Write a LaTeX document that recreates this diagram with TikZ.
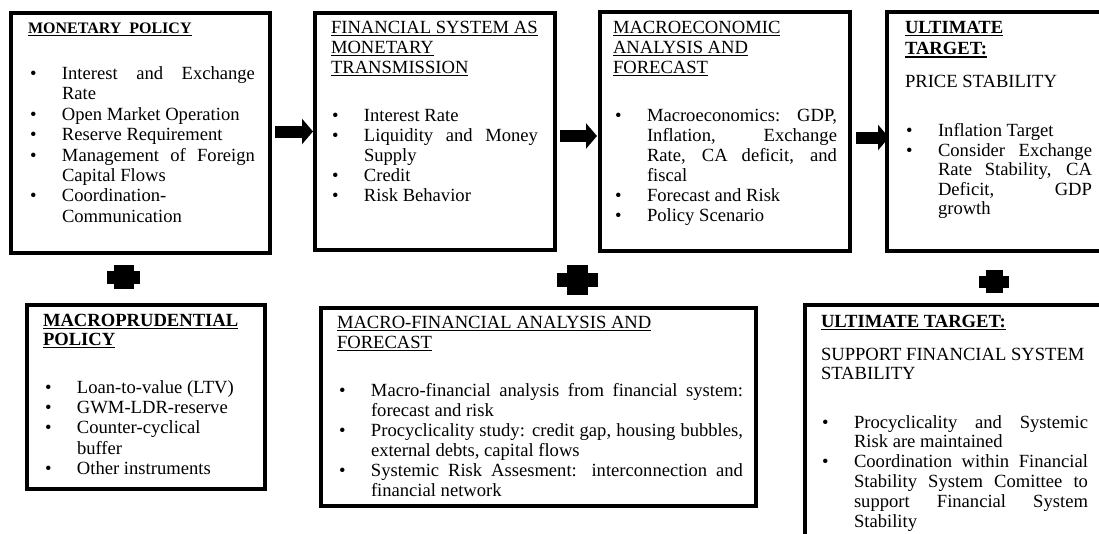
\documentclass[tikz,border=0pt]{standalone}
\usepackage{fontspec}
\setmainfont{Liberation Serif}
\usetikzlibrary{arrows.meta}
\newcommand\ulx[1]{\setbox0=\hbox{#1}\rlap{\rule[-3pt]{\wd0}{1.4pt}}\box0}
\newcommand\itm{\par\noindent\llap{\hbox to 32pt{\textbullet\hfil}}}
\newcommand\blist[3]{\vtop{\hsize=#1pt\baselineskip=#2pt\parindent=0pt\parskip=0pt\hyphenpenalty=10000\exhyphenpenalty=10000\hbadness=10000\tolerance=10000 #3\par}}
\newcommand\tlines[2]{\vtop{\baselineskip=#1pt #2}}
\begin{document}
\begin{tikzpicture}[x=1pt,y=-1pt,
  box/.style={draw, line width=3.5pt, inner sep=0pt, outer sep=0pt},
  txt/.style={anchor=base west, inner sep=0pt, outer sep=0pt, font=\fontsize{18.6}{20.2}\selectfont},
  barrow/.style={line width=12pt, -{Triangle[length=11pt 0 0, width=25pt 0 0]}}]
\clip (0,0) rectangle (1099,533);
\fill[white] (0,0) rectangle (1099,533);

% boxes
\node[box, minimum width=259pt, minimum height=240pt] (b1) at (140.5,133) {};
\node[box, minimum width=240pt, minimum height=237pt] (b2) at (435,131.5) {};
\node[box, minimum width=250pt, minimum height=239pt] (b3) at (725,131.5) {};
\node[box, minimum width=225pt, minimum height=239pt] (b4) at (999.5,131.5) {};
\node[box, minimum width=238pt, minimum height=184pt] (b5) at (146,397) {};
\node[box, minimum width=435pt, minimum height=198pt] (b6) at (538.5,407) {};
\node[box, minimum width=307pt, minimum height=245pt] (b7) at (958.5,427.5) {};

% arrows
\coordinate (a1s) at ([xshift=5pt,yshift=1.5pt]b1.east);
\coordinate (a1e) at (b2.west |- a1s);
\draw[barrow] (a1s) -- ([xshift=-2pt]a1e);
\coordinate (a2s) at ([xshift=5pt,yshift=-4.5pt]b2.east);
\coordinate (a2e) at (b3.west |- a2s);
\draw[barrow] (a2s) -- ([xshift=-3pt]a2e);
\coordinate (a3s) at ([xshift=6pt,yshift=-6pt]b3.east);
\coordinate (a3e) at (b4.west |- a3s);
\draw[barrow] (a3s) -- ([xshift=2pt]a3e);

% plus signs
\coordinate (p1) at (123.5,277);
\fill (p1) ++(-16.5,-6.5) rectangle ++(33,13);
\fill (p1) ++(-10,-12) rectangle ++(20,24);
\coordinate (p2) at (577.5,280);
\fill (p2) ++(-20.5,-7) rectangle ++(41,14);
\fill (p2) ++(-10.5,-15) rectangle ++(21,30);
\coordinate (p3) at (994,281.5);
\fill (p3) ++(-15,-6) rectangle ++(30,12);
\fill (p3) ++(-8.5,-11.5) rectangle ++(17,23);

% box 1
\node[txt] (t1) at (28,33) {\fontsize{16}{20}\selectfont\bfseries\ulx{MONETARY\ \ POLICY}};
\node[txt] (l1) at (62,79.5) {\blist{193}{20.4}{%
\itm Interest and Exchange\linebreak Rate
\itm Open Market Operation
\itm Reserve Requirement
\itm Management of Foreign\linebreak Capital Flows
\itm Coordination-\newline Communication}};

% box 2
\node[txt] (t2) at (331,33) {\tlines{20}{\hbox{\ulx{FINANCIAL SYSTEM AS}}\hbox{\ulx{MONETARY}}\hbox{\ulx{TRANSMISSION}}}};
\node[txt] (l2) at (364,121) {\blist{174}{20.2}{%
\itm Interest Rate
\itm Liquidity and Money\linebreak Supply
\itm Credit
\itm Risk Behavior}};

% box 3
\node[txt] (t3) at (613,33) {\tlines{20}{\hbox{\ulx{MACROECONOMIC}}\hbox{\ulx{ANALYSIS AND}}\hbox{\ulx{FORECAST}}}};
\node[txt] (l3) at (647,121) {\blist{190}{20}{%
\itm Macroeconomics: GDP,\linebreak Inflation, Exchange\linebreak Rate, CA deficit, and\linebreak fiscal
\itm Forecast and Risk
\itm Policy Scenario}};

% box 4
\node[txt] (t4) at (905,33) {\bfseries\tlines{21.5}{\hbox{\ulx{ULTIMATE}}\hbox{\ulx{TARGET:}}}};
\node[txt] (s4) at (905,87.5) {PRICE STABILITY};
\node[txt] (l4) at (938,136.5) {\blist{154}{19.6}{%
\itm Inflation Target
\itm Consider Exchange\linebreak Rate Stability, CA\linebreak Deficit, GDP\linebreak growth}};

% box 5
\node[txt] (t5) at (43,326) {\bfseries\tlines{19}{\hbox{\ulx{MACROPRUDENTIAL}}\hbox{\ulx{POLICY}}}};
\node[txt] (l5) at (77,393) {\blist{165}{20.4}{%
\itm Loan-to-value (LTV)
\itm GWM-LDR-reserve
\itm Counter-cyclical\newline buffer
\itm Other instruments}};

% box 6
\node[txt] (t6) at (337,328) {\tlines{20}{\hbox{\ulx{MACRO-FINANCIAL ANALYSIS AND}}\hbox{\ulx{FORECAST}}}};
\node[txt] (l6) at (371,396) {\blist{372}{20}{%
\itm Macro-financial analysis from financial system:\linebreak forecast and risk
\itm Procyclicality study: credit gap, housing bubbles,\linebreak external debts, capital flows
\itm Systemic Risk Assesment: interconnection and\linebreak financial network}};

% box 7
\node[txt] (t7) at (821,327) {\bfseries\ulx{ULTIMATE TARGET:}};
\node[txt] (s7) at (821,360) {\tlines{19}{\hbox{SUPPORT FINANCIAL SYSTEM}\hbox{STABILITY}}};
\node[txt] (l7) at (854,428) {\blist{234}{19.8}{%
\itm Procyclicality and Systemic\linebreak Risk are maintained
\itm Coordination within Financial\linebreak Stability System Comittee to\linebreak support Financial System\linebreak Stability}};
\end{tikzpicture}
\end{document}
